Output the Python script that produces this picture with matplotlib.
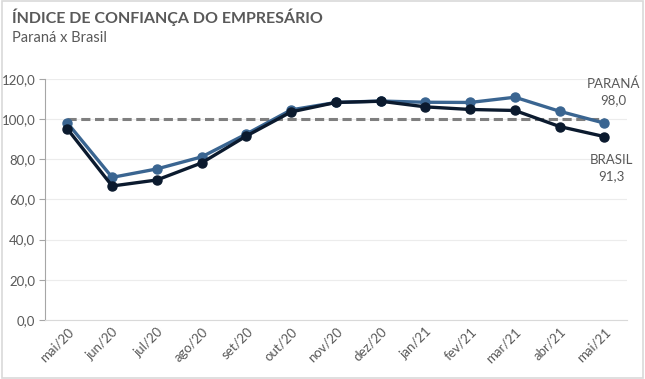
import matplotlib
matplotlib.use("Agg")
import matplotlib.pyplot as plt
from matplotlib.patches import Rectangle

months = ["mai/20", "jun/20", "jul/20", "ago/20", "set/20", "out/20", "nov/20",
          "dez/20", "jan/21", "fev/21", "mar/21", "abr/21", "mai/21"]
parana = [98.1, 71.0, 75.2, 81.2, 92.6, 104.6, 108.3, 109.0, 108.4, 108.3, 110.9, 103.9, 98.0]
brasil = [95.1, 66.7, 69.7, 78.2, 91.6, 103.6, 108.3, 108.9, 106.1, 104.8, 104.3, 96.3, 91.3]
reference = 100.0
yticks = [0, 20, 40, 60, 80, 100, 120]

plt.rcParams['font.family'] = ['Lato', 'DejaVu Sans']

fig = plt.figure(figsize=(6.45, 3.79), dpi=100)
fig.patches.append(Rectangle((0.003, 0.003), 0.994, 0.994, transform=fig.transFigure,
                             fill=False, edgecolor="#d9d9d9", linewidth=1.2))
ax = fig.add_axes([0.0698, 0.1557, 0.902, 0.636])

x = list(range(len(months)))
ax.plot([x[0], x[-1]], [reference, reference], color="#7f7f7f", linestyle=(0, (3, 1.5)),
        linewidth=2.2, zorder=2)
ax.plot(x, parana, color="#3a6591", linewidth=2.4, marker="o", markersize=6.5, zorder=3)
ax.plot(x, brasil, color="#0b1a2e", linewidth=2.4, marker="o", markersize=6.5, zorder=4)

ax.set_xlim(-0.5, len(months) - 0.5)
ax.set_ylim(0, 120)
ax.set_yticks(yticks)
ax.set_yticklabels([f"{v:.1f}".replace(".", ",") for v in yticks], color="#595959", fontsize=9.5)
ax.set_xticks(x)
ax.set_xticklabels(months, rotation=45, ha="right", rotation_mode="anchor",
                   color="#595959", fontsize=9.5)
ax.tick_params(axis="x", length=0, pad=4)
ax.tick_params(axis="y", length=4, color="#a6a6a6", pad=3)
ax.grid(axis="y", color="#ececec", linewidth=0.8)
ax.set_axisbelow(True)
for s in ["top", "right"]:
    ax.spines[s].set_visible(False)
ax.spines["left"].set_color("#a6a6a6")
ax.spines["bottom"].set_color("#d9d9d9")

ax.text(x[-1] + 0.2, parana[-1] + 19.5, "PARANÁ", ha="center", va="center", color="#595959", fontsize=9.5)
ax.text(x[-1] + 0.2, parana[-1] + 11.5, f"{parana[-1]:.1f}".replace(".", ","), ha="center", va="center",
        color="#595959", fontsize=9.5)
ax.text(x[-1] + 0.15, brasil[-1] - 11.6, "BRASIL", ha="center", va="center", color="#595959", fontsize=9.5)
ax.text(x[-1] + 0.15, brasil[-1] - 19.6, f"{brasil[-1]:.1f}".replace(".", ","), ha="center", va="center",
        color="#595959", fontsize=9.5)

fig.text(12 / 645, 1 - 17 / 379, "ÍNDICE DE CONFIANÇA DO EMPRESÁRIO", fontsize=11.5, fontweight="bold",
         color="#595959", va="center", ha="left")
fig.text(12 / 645, 1 - 38 / 379, "Paraná x Brasil", fontsize=10.5, color="#595959", va="center", ha="left")

fig.savefig("out.png", dpi=100)
